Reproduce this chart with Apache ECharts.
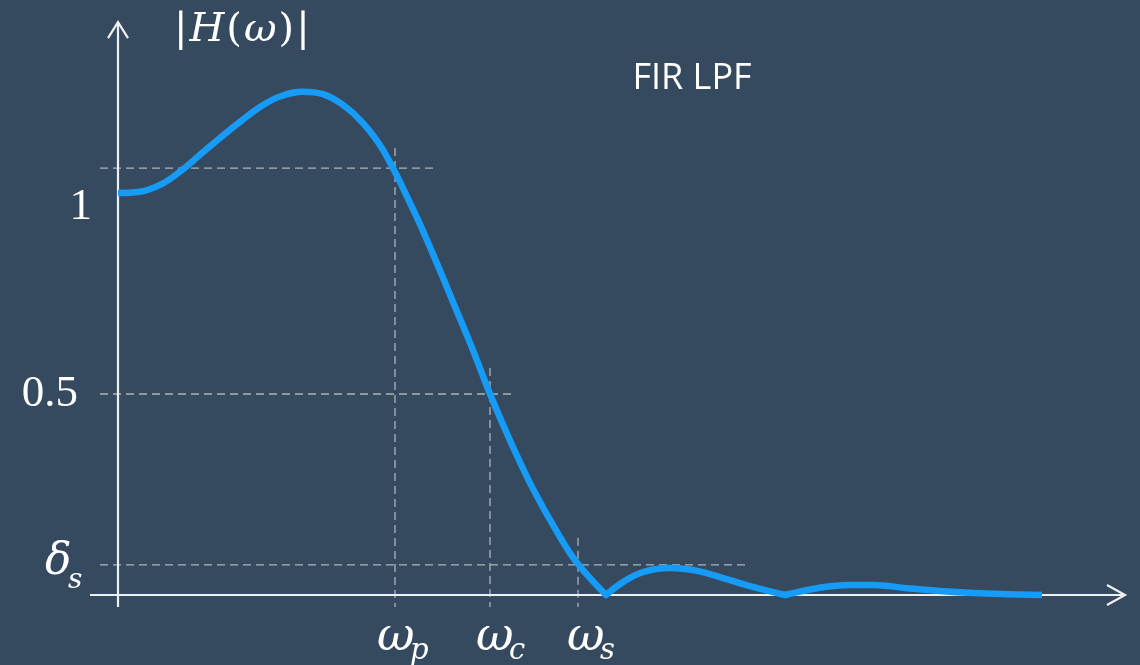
<!DOCTYPE html>
<html><head><meta charset="utf-8">
<script src="https://cdn.jsdelivr.net/npm/echarts@6/dist/echarts.min.js"></script>
<style>html,body{margin:0;padding:0;background:#354a5f}#c{width:1140px;height:665px}</style>
</head><body><div id="c"></div>
<script>
// ---- data ----
const omega = [0, 0.22, 0.42, 0.62, 0.82, 1.02, 1.22, 1.42, 1.62, 1.85, 2.05, 2.25, 2.45, 2.65, 2.95, 3.15, 3.35, 3.55, 3.72, 3.95, 4.15, 4.39, 4.59, 4.88, 5.05, 5.25, 5.52, 5.79, 6.05, 6.32, 6.67, 6.99, 7.32, 7.55, 7.89, 8.22, 8.55, 8.89, 9.24];
const magnitude = [1.0, 1.003, 1.020, 1.053, 1.095, 1.137, 1.177, 1.214, 1.240, 1.252, 1.246, 1.219, 1.174, 1.107, 0.960, 0.848, 0.729, 0.609, 0.500, 0.368, 0.264, 0.157, 0.080, 0.0, 0.032, 0.057, 0.067, 0.060, 0.042, 0.022, 0.0, 0.017, 0.025, 0.025, 0.017, 0.010, 0.005, 0.002, 0.0];
const omegaP = 2.77, omegaC = 3.72, omegaS = 4.60;
const passRippleTop = 1.062;
const deltaS = 0.075;
const yTickValues = [1, 0.5, deltaS];
const yTickLabels = ['1', '0.5', 'δ'];
const yTickSubs = ['', '', 's'];
const xTickValues = [omegaP, omegaC, omegaS];
const xTickSubs = ['p', 'c', 's'];
const guideLevels = [passRippleTop, 0.5, deltaS];
const titleText = 'FIR LPF';
const yAxisTitle = ['|', 'H', '(', 'ω', ')', '|'];

// ---- layout / style ----
const BG = '#354a5f', CURVE = '#169cf6', AXIS = '#eef0f2', GUIDE = '#aeb3b8';
const chart = echarts.init(document.getElementById('c'));

// split curve at its zeros so the notches stay sharp
const pts = omega.map((x, i) => [x, magnitude[i]]);
const segs = [];
let cur = [];
pts.forEach((p, i) => {
  cur.push(p);
  if (p[1] === 0 && i > 0 && i < pts.length - 1) { segs.push(cur); cur = [p]; }
});
segs.push(cur);

const series = segs.map((d, k) => ({
  type: 'line', data: d, smooth: 0.4, symbol: 'none', clip: false, z: 10,
  lineStyle: { color: CURVE, width: 6.5, cap: (k === 0 || k === segs.length - 1) ? 'butt' : 'round', join: 'round' },
  silent: true
}));

chart.setOption({
  backgroundColor: BG,
  animation: false,
  grid: { left: 68, top: 12.1, width: 1060, height: 623.1 },
  xAxis: { type: 'value', min: -0.5, max: 10.1, show: false },
  yAxis: { type: 'value', min: -0.1, max: 1.45, show: false },
  series: series
});

const P = (x, y) => chart.convertToPixel({ gridIndex: 0 }, [x, y]);
const g = [];
const o = P(0, 0);
const line = (a, b, style, z) => g.push({ type: 'line', z: z, silent: true, shape: { x1: a[0], y1: a[1], x2: b[0], y2: b[1] }, style: style });
const dashed = { stroke: GUIDE, lineWidth: 1.3, lineDash: [8, 5] };

// guides
const hEndsPx = [38, 21, 170];
const vTopPx = [20, 26, 27];
guideLevels.forEach((lv, i) => {
  const a = P(0, lv), t = P(xTickValues[i], lv);
  line([o[0] - 18, a[1]], [t[0] + hEndsPx[i], a[1]], dashed, 1);
  line([t[0], a[1] - vTopPx[i]], [t[0], o[1] + 12], dashed, 1);
});

// axes
const axStyle = { stroke: AXIS, lineWidth: 2.2 };
const xEnd = P(10.07, 0), yTop = P(0, 1.425);
line([o[0] - 28, o[1]], xEnd, axStyle, 3);
line([o[0], o[1] + 12], yTop, axStyle, 3);
g.push({ type: 'polyline', z: 3, silent: true, shape: { points: [[xEnd[0] - 18, xEnd[1] - 10], xEnd, [xEnd[0] - 18, xEnd[1] + 10]] }, style: { stroke: AXIS, lineWidth: 2.2, fill: null } });
g.push({ type: 'polyline', z: 3, silent: true, shape: { points: [[yTop[0] - 10, yTop[1] + 16], yTop, [yTop[0] + 10, yTop[1] + 16]] }, style: { stroke: AXIS, lineWidth: 2.2, fill: null } });

const txt = (s, x, y, font, align) => g.push({ type: 'text', z: 4, silent: true, x: x, y: y, style: { text: s, fill: '#ffffff', font: font, align: align, verticalAlign: 'middle' } });

// y tick labels
const yLabDx = [-26, -40, -73];
const yLabDy = [14, 0, -2];
yTickValues.forEach((v, i) => {
  const p = P(0, v);
  if (yTickSubs[i]) {
    txt(yTickLabels[i], o[0] + yLabDx[i], p[1] + yLabDy[i], 'italic 44px "DejaVu Serif"', 'left');
    txt(yTickSubs[i], o[0] + yLabDx[i] + 23, p[1] + 16, 'italic 28px "DejaVu Serif"', 'left');
  } else {
    txt(yTickLabels[i], o[0] + yLabDx[i], p[1] + yLabDy[i], '45px "Liberation Serif"', 'right');
  }
});

// x tick labels
const xLabDx = [-18, -14, -11];
xTickValues.forEach((v, i) => {
  const p = P(v, 0);
  txt('ω', p[0] + xLabDx[i], p[1] + 43, 'italic 46px "DejaVu Serif"', 'left');
  txt(xTickSubs[i], p[0] + xLabDx[i] + 33, p[1] + 56, 'italic 29px "DejaVu Serif"', 'left');
});

// y axis title |H(ω)|
g.push({ type: 'text', z: 4, silent: true, x: o[0] + 55, y: 31, style: {
  text: yAxisTitle.map((c, i) => (i === 1 || i === 3) ? '{i|' + c + '}' : '{u|' + c + '}').join(''),
  verticalAlign: 'middle', align: 'left',
  rich: { i: { font: 'italic 40px "DejaVu Serif"', fill: '#fff', padding: [0, 1, 0, 1] }, u: { font: '40px "DejaVu Serif"', fill: '#fff', padding: [0, 1, 0, 1] } }
} });

// title
txt(titleText, 692, 79, '36px "Open Sans"', 'center');

chart.setOption({ graphic: { elements: g } });
</script>
</body></html>
